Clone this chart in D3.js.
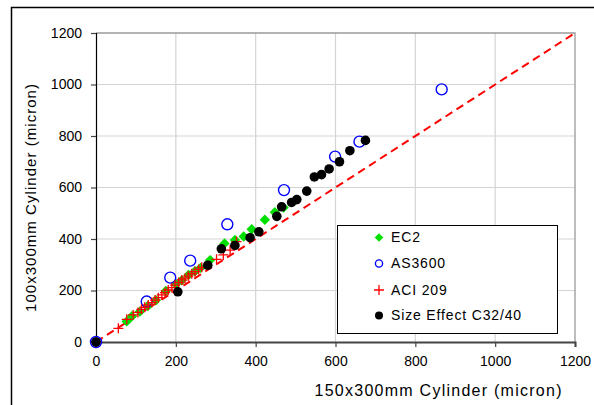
<!DOCTYPE html>
<html>
<head>
<meta charset="utf-8">
<script src="https://cdn.jsdelivr.net/npm/d3@7"></script>
<style>
  body { margin: 0; background: #fff; }
  svg { display: block; font-family: "Liberation Sans", Arial, sans-serif; }
</style>
</head>
<body>
<svg width="594" height="405"></svg>
<script>
// data (micron)
const ec2 = [[0,0],[77,80],[90,100],[110,118],[130,140],[150,162],[175,198],[200,225],[215,240],[232,260],[248,275],[262,288],[286,318],[322,383],[348,396],[370,410],[390,438],[423,475],[448,504],[470,522]];
const as3600 = [[0,0],[127,157],[186,250],[236,316],[329,457],[471,590],[599,720],[660,778],[866,981]];
const aci209 = [[0,0],[56,53],[77,88],[93,105],[105,115],[114,127],[122,135],[131,144],[140,153],[148,163],[156,172],[165,183],[173,192],[181,202],[190,211],[198,221],[207,231],[215,241],[223,248],[231,256],[240,265],[248,273],[257,282],[265,290],[302,321],[319,338],[336,357],[352,390]];
const sizeEffect = [[0,0],[205,195],[280,298],[314,362],[348,375],[386,405],[408,428],[453,488],[465,525],[490,542],[503,553],[528,586],[547,641],[565,650],[584,672],[610,700],[636,743],[675,783]];
const ticks = [0, 200, 400, 600, 800, 1000, 1200];
const seriesNames = ["EC2", "AS3600", "ACI 209", "Size Effect C32/40"];

const svg = d3.select("svg");
const fontFam = "Liberation Sans, Arial, sans-serif";

// outer chart frame (runs off the right/bottom edges)
svg.append("path")
    .attr("d", "M11.5,410 V7.5 H600")
    .attr("fill", "none")
    .attr("stroke", "#000")
    .attr("stroke-width", 1.5);

const x = d3.scaleLinear().domain([0, 1200]).range([96, 575]);
const y = d3.scaleLinear().domain([0, 1200]).range([342, 33]);

// gridlines
const grid = svg.append("g");
grid.selectAll("line.v").data(ticks.slice(1, -1)).enter().append("line")
    .attr("x1", d => x(d)).attr("x2", d => x(d))
    .attr("y1", y(0)).attr("y2", y(1200))
    .attr("stroke", "#d4d4d4").attr("stroke-width", 1.2);
grid.selectAll("line.h").data(ticks.slice(1, -1)).enter().append("line")
    .attr("x1", x(0)).attr("x2", x(1200))
    .attr("y1", d => y(d)).attr("y2", d => y(d))
    .attr("stroke", "#d4d4d4").attr("stroke-width", 1.2);

// plot area top / right border
svg.append("path")
    .attr("d", `M${x(0)},${y(1200)} H${x(1200)} V${y(0)}`)
    .attr("fill", "none")
    .attr("stroke", "#9a9a9a")
    .attr("stroke-width", 1.3);

// axes
const xAxis = svg.append("g")
    .attr("transform", `translate(0,${y(0)})`)
    .call(d3.axisBottom(x).tickValues(ticks).tickFormat(d3.format("d")).tickSize(5).tickPadding(9));
xAxis.select(".domain").attr("stroke", "#444").attr("stroke-width", 2);
xAxis.selectAll(".tick line").attr("stroke", "#444").attr("stroke-width", 1.2);
xAxis.selectAll("text").attr("font-size", 14).attr("font-family", fontFam).attr("fill", "#000");

const yAxis = svg.append("g")
    .attr("transform", `translate(${x(0)},0)`)
    .call(d3.axisLeft(y).tickValues(ticks).tickFormat(d3.format("d")).tickSize(5).tickPadding(9));
yAxis.select(".domain").attr("stroke", "#000").attr("stroke-width", 1.2);
yAxis.selectAll(".tick line").attr("stroke", "#444").attr("stroke-width", 1.2);
yAxis.selectAll("text").attr("font-size", 14).attr("font-family", fontFam).attr("fill", "#000");

// y = x reference line
svg.append("line")
    .attr("x1", x(0)).attr("y1", y(0))
    .attr("x2", x(1200)).attr("y2", y(1200))
    .attr("stroke", "#ff0000")
    .attr("stroke-width", 2)
    .attr("stroke-dasharray", "8,5");

// marker helpers
function diamond(g, s) {
    return g.append("path").attr("d", `M0,${-s}L${s},0L0,${s}L${-s},0Z`).attr("fill", "#00e000");
}
function ring(g, r) {
    return g.append("circle").attr("r", r).attr("fill", "none").attr("stroke", "#0000ff").attr("stroke-width", 1.4);
}
function plus(g, s) {
    return g.append("path").attr("d", `M${-s},0H${s}M0,${-s}V${s}`).attr("stroke", "#ff0000").attr("stroke-width", 1.3).attr("fill", "none");
}
function dot(g, r) {
    return g.append("circle").attr("r", r).attr("fill", "#000");
}
const drawers = [g => diamond(g, 5.2), g => ring(g, 5.5), g => plus(g, 5), g => dot(g, 4.8)];
const legendDrawers = [g => diamond(g, 4.3), g => ring(g, 3.6), g => plus(g, 5), g => dot(g, 4)];

[ec2, as3600, aci209, sizeEffect].forEach((data, i) => {
    svg.append("g").selectAll("g").data(data).enter().append("g")
        .attr("transform", d => `translate(${x(d[0])},${y(d[1])})`)
        .each(function() { drawers[i](d3.select(this)); });
});

// legend
const legend = svg.append("g");
legend.append("rect")
    .attr("x", 337.5).attr("y", 225.5)
    .attr("width", 220).attr("height", 108)
    .attr("fill", "#fff").attr("stroke", "#000").attr("stroke-width", 1);
const rowY = [237.5, 263.5, 290, 315.5];
seriesNames.forEach((name, i) => {
    const row = legend.append("g").attr("transform", `translate(379,${rowY[i]})`);
    legendDrawers[i](row);
    row.append("text")
        .attr("x", 12).attr("y", 0).attr("dy", "0.35em")
        .attr("font-size", 14)
        .attr("letter-spacing", 0.85)
        .text(name);
});

// axis titles
svg.append("text")
    .attr("x", 438).attr("y", 390).attr("dy", "0.35em")
    .attr("text-anchor", "middle")
    .attr("font-size", 16)
    .attr("textLength", 247)
    .attr("lengthAdjust", "spacing")
    .text("150x300mm Cylinder (micron)");
svg.append("text")
    .attr("transform", "translate(31,198) rotate(-90)")
    .attr("dy", "0.35em")
    .attr("text-anchor", "middle")
    .attr("font-size", 15)
    .attr("textLength", 228)
    .attr("lengthAdjust", "spacing")
    .text("100x300mm Cylinder (micron)");
</script>
</body>
</html>
